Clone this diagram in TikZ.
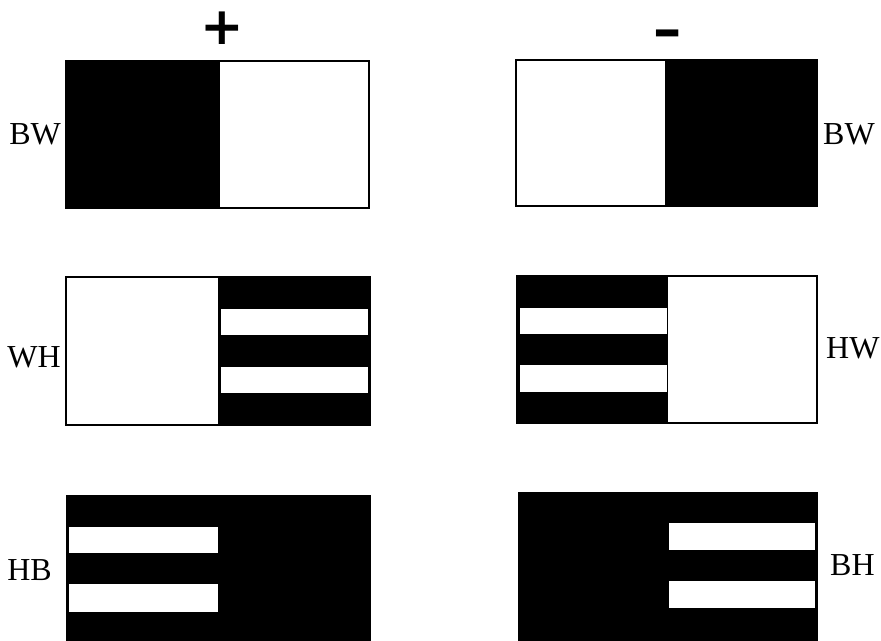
\documentclass[tikz,border=0pt]{standalone}
\usepackage{graphicx}
\usepackage{fontspec}
\setmainfont{Liberation Serif}
\newfontfamily\signfont{DejaVu Sans}
\begin{document}
\begin{tikzpicture}[x=1pt,y=-1pt,
  frame/.style={draw=black,line width=2pt},
  bar/.style={fill=white},
  lab/.style={font=\fontsize{32}{36}\selectfont, inner sep=0pt},
  sign/.style={font=\signfont\bfseries\fontsize{52}{56}\selectfont, inner sep=0pt}]
\useasboundingbox (0,0) rectangle (881,640);
\begin{scope}
\clip (0,0) rectangle (881,640);
% row 1 left
\fill (66,61) rectangle (220,208);
\draw[frame] (66,61) rectangle (369,208);
% row 1 right
\fill (665,60) rectangle (817,206);
\draw[frame] (516,60) rectangle (817,206);
% row 2 left
\fill (218,277) rectangle (370,425);
\draw[frame] (66,277) rectangle (370,425);
\fill[bar] (221,309) rectangle (368,335);
\fill[bar] (221,367) rectangle (368,393);
% row 2 right
\fill (517,276) rectangle (668,423);
\draw[frame] (517,276) rectangle (817,423);
\fill[bar] (520,308) rectangle (667,334);
\fill[bar] (520,365) rectangle (667,392);
% row 3 left
\fill (66,495) rectangle (371,650);
\fill[bar] (69,527) rectangle (218,553);
\fill[bar] (69,584) rectangle (218,612);
% row 3 right
\fill (518,492) rectangle (818,650);
\fill[bar] (669,523) rectangle (815,550);
\fill[bar] (669,581) rectangle (815,608);
\end{scope}
% signs
\node[sign] (plus) at (222,28) {+};
\node[sign,anchor=north,font=\signfont\bfseries\fontsize{56}{60}\selectfont] (minus) at (668,30) {\scalebox{1.3}[0.875]{-}};
% labels
\node[lab,anchor=east] (bwl) at (61,134) {BW};
\node[lab,anchor=west] (bwr) at (823,134) {BW};
\node[lab,anchor=east] (wh) at (61,357) {WH};
\node[lab,anchor=west] (hw) at (826,348) {HW};
\node[lab,anchor=east] (hb) at (52,570) {HB};
\node[lab,anchor=west] (bh) at (830,565) {BH};
\end{tikzpicture}
\end{document}
